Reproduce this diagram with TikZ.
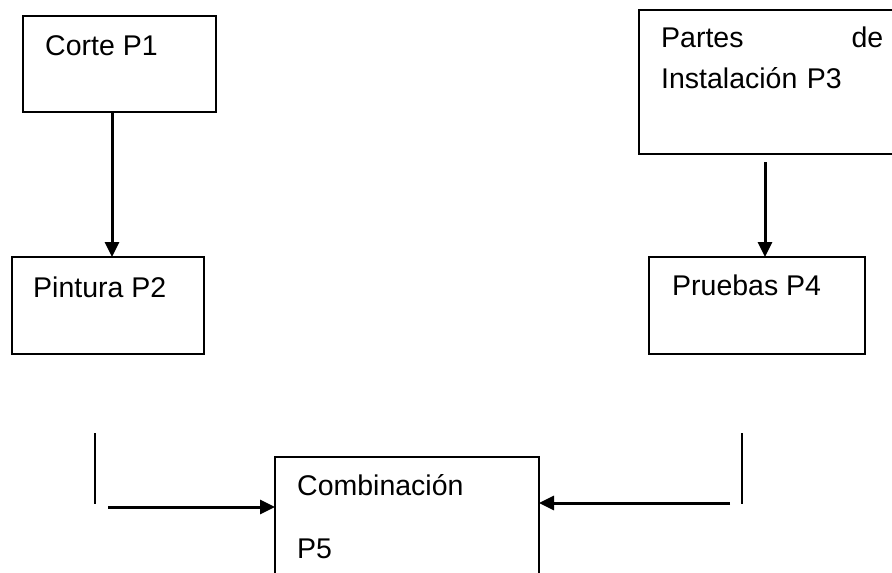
\documentclass[tikz,border=0pt]{standalone}
\usepackage{fontspec}
\setmainfont{Liberation Sans}
\usetikzlibrary{arrows.meta}
\tikzset{
  box/.style={draw, line width=2pt, inner sep=0pt, outer sep=0pt, anchor=north west},
  lbl/.style={inner sep=0pt, anchor=base west, align=left, font=\fontsize{28.5}{41}\selectfont},
  flow/.style={line width=3pt, -{Triangle[length=15pt,width=14pt]}},
  bar/.style={line width=2pt}
}
\begin{document}
\begin{tikzpicture}[x=1pt, y=-1pt]
  \useasboundingbox (0,0) rectangle (892,573);
  % boxes
  \node[box, minimum width=193pt, minimum height=96pt] (corte) at (23,16) {};
  \node[box, minimum width=270pt, minimum height=144pt] (partes) at (639,10) {};
  \node[box, minimum width=192pt, minimum height=97pt] (pintura) at (12,257) {};
  \node[box, minimum width=216pt, minimum height=97pt] (pruebas) at (649,257) {};
  \node[box, minimum width=264pt, minimum height=150pt] (comb) at (275,457) {};
  % texts
  \node[lbl] (tcorte) at (45,55) {Corte P1};
  \node[lbl, text width=222pt] (tpartes) at (661,47) {Partes\hspace{0pt plus 1filll}de\\Instalación P3};
  \node[lbl] (tpintura) at (33,297) {Pintura P2};
  \node[lbl] (tpruebas) at (672,295) {Pruebas P4};
  \node[lbl, text width=220pt, font=\fontsize{28.5}{63}\selectfont] (tcomb) at (297,495) {Combinación\\P5};
  % free ends
  \coordinate (s3) at (765,162);
  \coordinate (l2) at (108,507);
  \coordinate (r4) at (730,503);
  \begin{scope}
    \draw[flow] (corte.south -| 112,0) to (pintura.north -| 112,0);
    \draw[flow] (s3) to (pruebas.north -| s3);
    \draw[bar] (95,433) to (95,504);
    \draw[bar] (742,433) to (742,504);
    \draw[flow] (l2) to (comb.west |- l2);
    \draw[flow] (r4) to (comb.east |- r4);
  \end{scope}
\end{tikzpicture}
\end{document}
